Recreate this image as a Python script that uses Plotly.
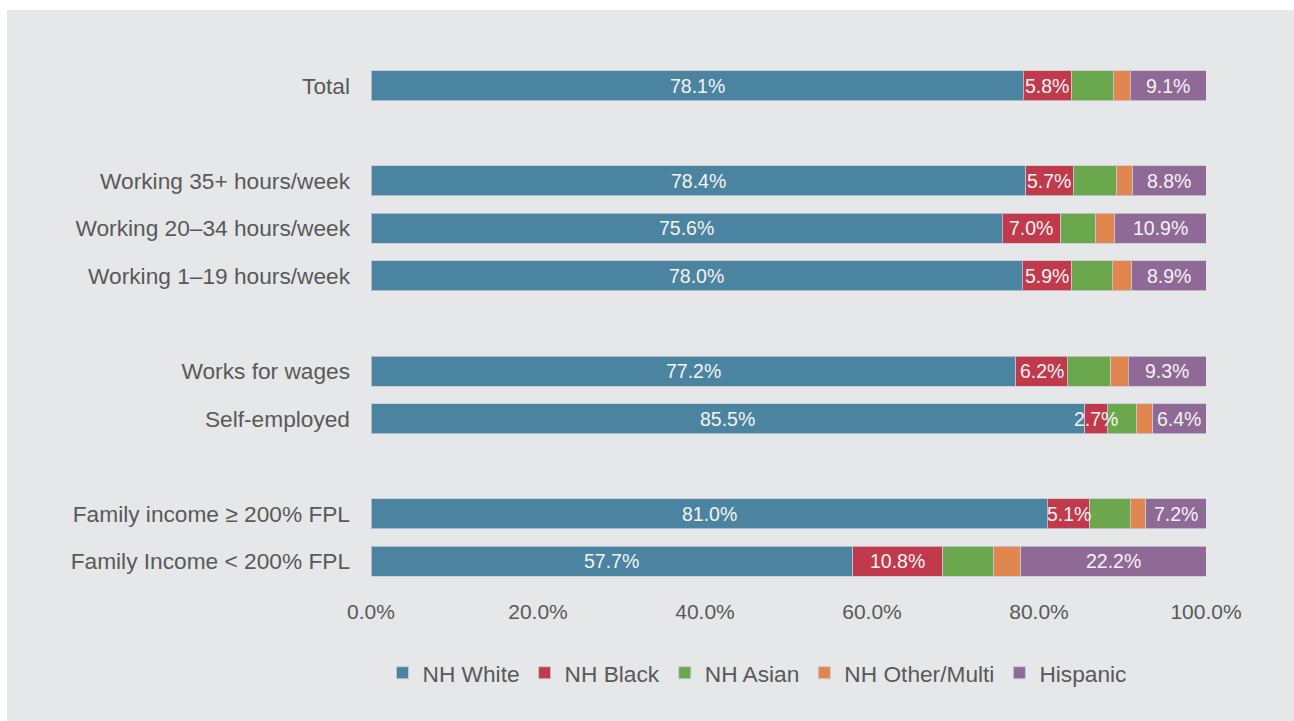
import numpy as np
import plotly.graph_objects as go

# Rows of the chart, top to bottom
categories = [
    "Total",
    "Working 35+ hours/week",
    "Working 20\u201334 hours/week",
    "Working 1\u201319 hours/week",
    "Works for wages",
    "Self-employed",
    "Family income \u2265 200% FPL",
    "Family Income < 200% FPL",
]

# Share of each group (percent)
nh_white = [78.1, 78.4, 75.6, 78.0, 77.2, 85.5, 81.0, 57.7]
nh_black = [5.8, 5.7, 7.0, 5.9, 6.2, 2.7, 5.1, 10.8]
nh_asian = [5.0, 5.2, 4.2, 4.9, 5.2, 3.5, 4.8, 6.1]
nh_other = [2.0, 1.9, 2.3, 2.3, 2.1, 1.9, 1.9, 3.2]
hispanic = [9.1, 8.8, 10.9, 8.9, 9.3, 6.4, 7.2, 22.2]

x_ticks = [0, 20, 40, 60, 80, 100]
x_tick_labels = ["0.0%", "20.0%", "40.0%", "60.0%", "80.0%", "100.0%"]

# Row order, with empty spacer rows between the groups
row_order = [
    categories[0], "gap1",
    categories[1], categories[2], categories[3], "gap2",
    categories[4], categories[5], "gap3",
    categories[6], categories[7],
]

FONT = "Liberation Sans, Arial, sans-serif"
GREY_TEXT = "#595959"
LABEL_FONT = dict(family=FONT, size=19.5, color="#f4f4f4")

series = [
    ("NH White", nh_white, "#4b84a1", True),
    ("NH Black", nh_black, "#c13a4c", True),
    ("NH Asian", nh_asian, "#6ba84d", False),
    ("NH Other/Multi", nh_other, "#e2864f", False),
    ("Hispanic", hispanic, "#8f6a97", True),
]

fig = go.Figure()
left = np.zeros(len(categories))
annotations = []
for name, vals, color, labelled in series:
    vals = np.asarray(vals, dtype=float)
    fig.add_trace(go.Bar(
        y=categories,
        x=vals,
        name=name,
        orientation="h",
        marker=dict(color=color, line=dict(color="rgba(200,200,215,0.8)", width=1)),
        hoverinfo="skip",
    ))
    if labelled:
        # value label centred on its segment, drawn above every bar
        for cat, start, v in zip(categories, left, vals):
            annotations.append(dict(
                x=start + v / 2, y=cat, xref="x", yref="y",
                text=f"{v:.1f}%", showarrow=False,
                xanchor="center", yanchor="middle",
                font=LABEL_FONT,
            ))
    left = left + vals

# plot area spans x 371..1206 px, y 62..585 px of the 1294x721 page
L, R, T, B = 371, 88, 62, 136
W, H = 1294, 721
pw, ph = W - L - R, H - T - B


def px_x(px):
    return (px - L) / pw


def px_y(py):
    return (H - B - py) / ph


fig.add_shape(
    type="rect", xref="paper", yref="paper",
    x0=px_x(7), x1=px_x(W + 2), y0=px_y(H + 2), y1=px_y(10),
    fillcolor="#e6e7e8", line=dict(width=0), layer="below",
)

fig.update_layout(
    width=W, height=H,
    barmode="stack",
    bargap=0.37,
    paper_bgcolor="white",
    plot_bgcolor="rgba(0,0,0,0)",
    margin=dict(l=L, r=R, t=T, b=B, autoexpand=False),
    font=dict(family=FONT, color=GREY_TEXT),
    annotations=annotations,
    showlegend=True,
    legend=dict(
        orientation="h",
        x=px_x(757), xanchor="center",
        y=px_y(673), yanchor="middle",
        font=dict(family=FONT, size=22.7, color=GREY_TEXT),
        bgcolor="rgba(0,0,0,0)",
        traceorder="normal",
        itemwidth=30,
    ),
    xaxis=dict(
        range=[0, 100],
        tickvals=x_ticks,
        ticktext=x_tick_labels,
        showgrid=False,
        zeroline=False,
        showline=False,
        tickfont=dict(family=FONT, size=21, color=GREY_TEXT),
        ticklabelstandoff=12,
        fixedrange=True,
    ),
    yaxis=dict(
        categoryorder="array",
        categoryarray=row_order,
        tickmode="array",
        tickvals=categories,
        ticktext=categories,
        range=[len(row_order) - 0.5, -0.5],
        showgrid=False,
        zeroline=False,
        showline=False,
        tickfont=dict(family=FONT, size=22.7, color=GREY_TEXT),
        ticklabelstandoff=20,
        fixedrange=True,
    ),
)

fig.write_html("out.html")
